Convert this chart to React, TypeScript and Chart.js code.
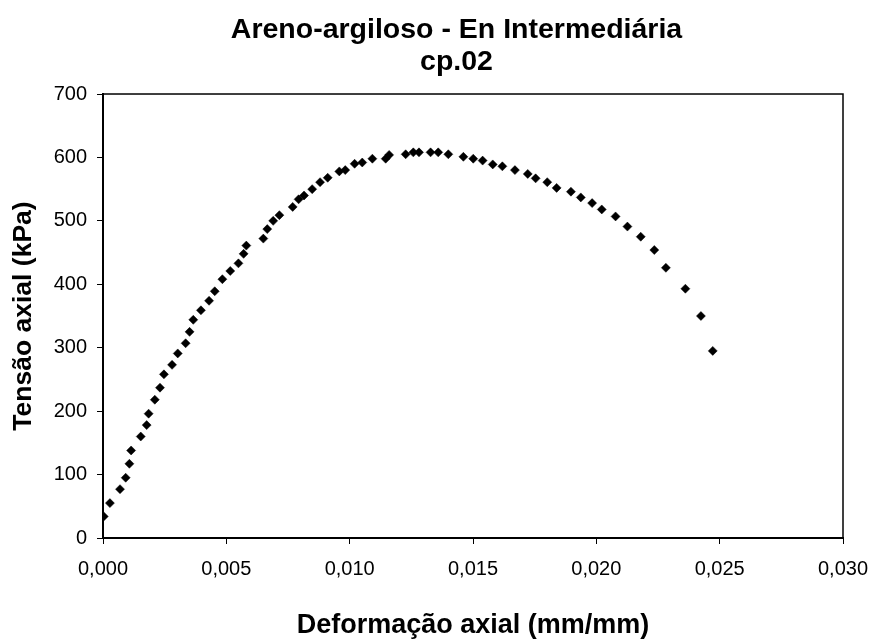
import React, { useEffect, useRef } from "react";
import { Chart, registerables } from "chart.js";

Chart.register(...registerables);

const titleLines = ["Areno-argiloso - En Intermediária", "cp.02"];
const xTitle = "Deformação axial (mm/mm)";
const yTitle = "Tensão axial (kPa)";

const strain = [
  0.00003, 0.00028, 0.00069, 0.00092, 0.00107, 0.00114, 0.00153, 0.00177, 0.00185, 0.0021,
  0.00231, 0.00247, 0.0028, 0.00303, 0.00335, 0.00351, 0.00366, 0.00397, 0.0043, 0.00453,
  0.00484, 0.00516, 0.00549, 0.0057, 0.00581, 0.0065, 0.00666, 0.0069, 0.00715, 0.00769,
  0.00793, 0.00815, 0.00848, 0.0088, 0.00911, 0.00958, 0.00982, 0.0102, 0.01051, 0.01092,
  0.01146, 0.0116, 0.01227, 0.01258, 0.01281, 0.01328, 0.01359, 0.014, 0.01461, 0.01501,
  0.01539, 0.0158, 0.01619, 0.0167, 0.01722, 0.01754, 0.01801, 0.01839, 0.01897, 0.01937,
  0.01983, 0.02022, 0.02078, 0.02126, 0.0218, 0.02235, 0.02282, 0.02361, 0.02424, 0.02472,
];

const stress = [
  34, 55, 77, 95, 117, 138, 160, 178, 196, 218,
  237, 258, 273, 291, 307, 325, 344, 359, 374, 389,
  408, 421, 433, 448, 461, 472, 487, 500, 509, 522,
  534, 540, 550, 561, 568, 578, 580, 590, 592, 598,
  598, 604, 605, 608, 608, 608, 608, 605, 601, 598,
  595, 589, 586, 580, 574, 567, 561, 552, 546, 537,
  528, 518, 507, 491, 475, 454, 426, 393, 350, 295,
];

const xMin = 0;
const xMax = 0.03;
const xStep = 0.005;
const yMin = 0;
const yMax = 700;
const yStep = 100;

const FONT = "'Liberation Sans', Arial, sans-serif";

const framePlugin = {
  id: "frame",
  afterLayout(chart: any) {
    const tb = chart.titleBlock;
    if (tb) {
      tb.left = 70;
    }
  },
  beforeDatasetsDraw(chart: any) {
    const { ctx, chartArea } = chart;
    ctx.save();
    ctx.strokeStyle = "#000";
    ctx.lineWidth = 1.5;
    ctx.strokeRect(chartArea.left, chartArea.top, chartArea.right - chartArea.left, chartArea.bottom - chartArea.top);
    ctx.restore();
  },
};

export default function App() {
  const ref = useRef<HTMLCanvasElement | null>(null);

  useEffect(() => {
    if (!ref.current) return;
    const chart = new Chart(ref.current, {
      type: "scatter",
      data: {
        datasets: [
          {
            data: strain.map((x, i) => ({ x, y: stress[i] })),
            pointStyle: "rectRot",
            pointRadius: 4.5,
            pointBackgroundColor: "#000",
            pointBorderColor: "#000",
            pointBorderWidth: 0.5,
            showLine: false,
          },
        ],
      },
      plugins: [framePlugin],
      options: {
        responsive: false,
        animation: false,
        layout: { autoPadding: false, padding: { left: 0, right: 32, top: 0, bottom: 0 } },
        plugins: {
          legend: { display: false },
          tooltip: { enabled: false },
          title: {
            display: true,
            text: titleLines,
            color: "#000",
            font: { family: FONT, size: 28.5, weight: "bold", lineHeight: 1.123 },
            padding: { top: 14, bottom: 16 },
          },
        },
        scales: {
          x: {
            type: "linear",
            min: xMin,
            max: xMax,
            afterFit(scale: any) {
              scale.height = 106;
              scale.paddingLeft = 0;
              scale.paddingRight = 0;
            },
            ticks: {
              stepSize: xStep,
              color: "#000",
              font: { family: FONT, size: 20 },
              padding: 13,
              maxRotation: 0,
              callback: (v: any) => Number(v).toFixed(3).replace(".", ","),
            },
            grid: { display: true, drawOnChartArea: false, drawTicks: true, tickLength: 6, color: "#000", lineWidth: 1 },
            border: { display: true, color: "#000", width: 2 },
            title: {
              display: true,
              text: xTitle,
              color: "#000",
              font: { family: FONT, size: 27, weight: "bold", lineHeight: 1.2 },
              padding: { top: 0, bottom: 2 },
            },
          },
          y: {
            type: "linear",
            min: yMin,
            max: yMax,
            afterFit(scale: any) {
              scale.width = 103;
              scale.paddingTop = 0;
              scale.paddingBottom = 0;
            },
            ticks: {
              stepSize: yStep,
              color: "#000",
              font: { family: FONT, size: 20 },
              padding: 10,
            },
            grid: { display: true, drawOnChartArea: false, drawTicks: true, tickLength: 6, color: "#000", lineWidth: 1 },
            border: { display: true, color: "#000", width: 2 },
            title: {
              display: true,
              text: yTitle,
              color: "#000",
              font: { family: FONT, size: 26.5, weight: "bold", lineHeight: 1.2 },
              padding: { top: 8, bottom: 0 },
            },
          },
        },
      },
    } as any);
    return () => chart.destroy();
  }, []);

  return (
    <div style={{ position: "absolute", left: 0, top: 0, width: 875, height: 644, background: "#fff" }}>
      <canvas ref={ref} width={875} height={644} style={{ width: 875, height: 644 }} />
    </div>
  );
}
